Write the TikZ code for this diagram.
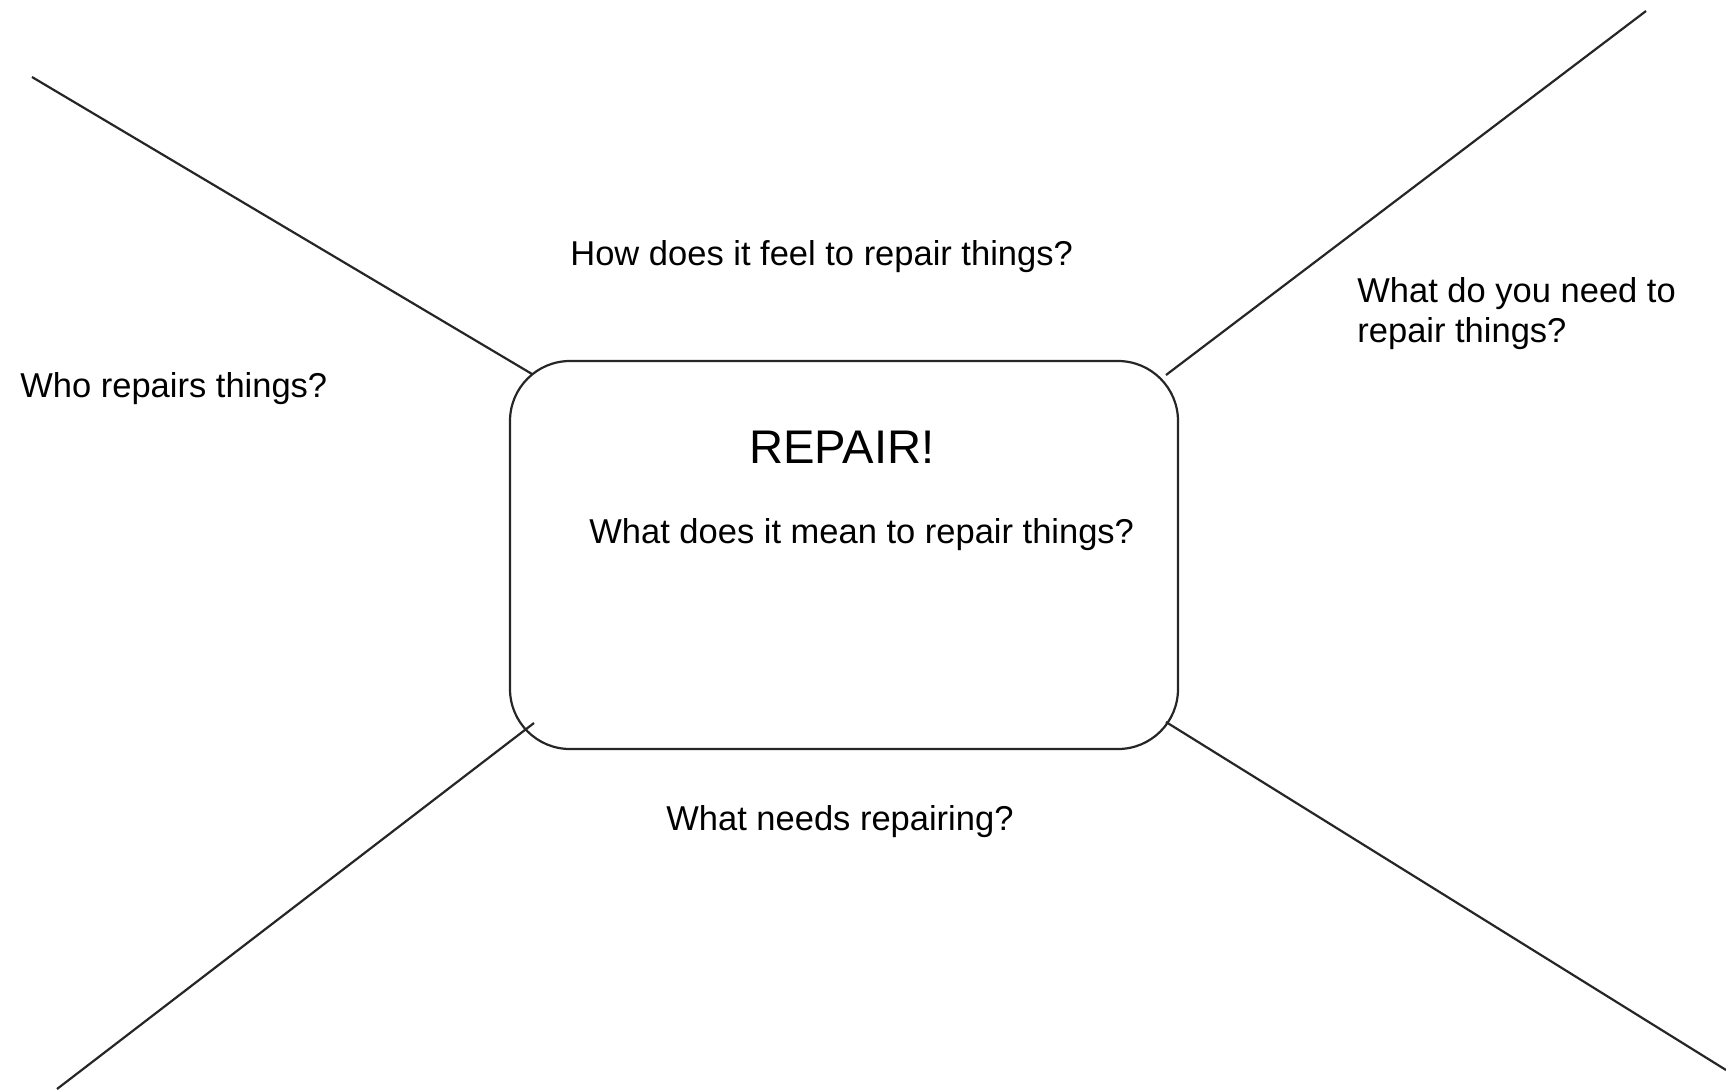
\documentclass[tikz,border=0pt]{standalone}
\usepackage{fontspec}
\setmainfont{Liberation Sans}
\begin{document}
\begin{tikzpicture}[x=0.5pt,y=-0.5pt,
  spoke/.style={draw=black!85, line width=1.1pt},
  qtext/.style={inner sep=0pt, anchor=base west, font=\fontsize{17.25}{20}\selectfont},
  titletext/.style={inner sep=0pt, anchor=base west, font=\fontsize{23.6}{28}\selectfont},
  centerbox/.style={draw=black!85, line width=1.1pt, rounded corners=30pt, inner sep=0pt}]
\useasboundingbox (0,0) rectangle (1726,1089);
\node[centerbox, minimum width=334pt, minimum height=194pt] (box) at (844,555) {};
% spoke ends
\coordinate (tlin) at (532,374);
\coordinate (tlout) at (32,77);
\coordinate (trin) at (1166,375);
\coordinate (trout) at (1646,11);
\coordinate (blin) at (534,723);
\coordinate (blout) at (57,1089);
\coordinate (brin) at (1166,722);
\coordinate (brout) at (1726,1070);
\draw[spoke] (tlin) -- (tlout);
\draw[spoke] (trin) -- (trout);
\draw[spoke] (blin) -- (blout);
\draw[spoke] (brin) -- (brout);
% texts
\node[titletext] (title) at (749,463) {REPAIR!};
\node[qtext] (mean) at (589,543) {What does it mean to repair things?};
\node[qtext] (feel) at (570,265) {How does it feel to repair things?};
\node[qtext, align=left] (need) at (1357,342) {What do you need to\\repair things?};
\node[qtext] (who) at (20,397) {Who repairs things?};
\node[qtext] (what) at (666,830) {What needs repairing?};
\end{tikzpicture}
\end{document}
